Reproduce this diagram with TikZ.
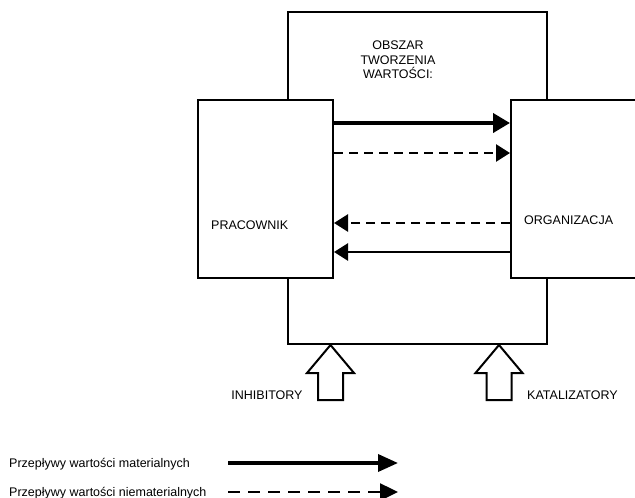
\documentclass[tikz,border=0pt]{standalone}
\usepackage{fontspec}
\setmainfont{Liberation Sans}
\usetikzlibrary{arrows.meta}

\begin{document}
\begin{tikzpicture}[x=1pt, y=-1pt,
    box/.style={draw, line width=2pt, fill=white, inner sep=0pt, anchor=north west},
    lbl/.style={font=\fontsize{12.5}{14.5}\selectfont, inner sep=0pt},
    flow/.style={line width=2.5pt, -{Triangle[length=14pt, width=17pt]}},
    soft/.style={flow, dash pattern=on 9pt off 6pt},
    gate/.style={draw, line width=2pt, fill=white}]
    \useasboundingbox (0,0) rectangle (635,498);
    \clip (0,0) rectangle (635,498);
    % value area and the two sides
    \node[box, minimum width=259pt, minimum height=332pt] (obszar) at (287,11) {};
    \node[box, minimum width=135pt, minimum height=178pt] (prac) at (197,99) {};
    \node[box, minimum width=140pt, minimum height=178pt] (org) at (510,99) {};
    \node[lbl, align=center] (obszarT) at (398,60) {OBSZAR\\TWORZENIA\\WARTOŚCI:};
    \node[lbl, anchor=west] (pracT) at (211,225) {PRACOWNIK};
    \node[lbl, anchor=west] (orgT) at (524,220) {ORGANIZACJA};
    % flows
    \draw[flow, line width=4pt, -{Triangle[length=17pt, width=19pt]}] (prac.east |- 0,123) -- (org.west |- 0,123);
    \draw[soft] (prac.east |- 0,153) -- (org.west |- 0,153);
    \draw[soft] (org.west |- 0,223) -- (prac.east |- 0,223);
    \draw[flow] (org.west |- 0,252) -- (prac.east |- 0,252);
    % inhibitors and catalysts
    \foreach \gx in {330.5,499}
        \draw[gate] (\gx,345) -- ++(23.5,28) -- ++(-11,0) -- ++(0,27) -- ++(-25,0)
            -- ++(0,-27) -- ++(-11,0) -- cycle;
    \node[lbl] (inhT) at (267,395) {INHIBITORY};
    \node[lbl, anchor=west] (katT) at (527,395) {KATALIZATORY};
    % legend
    \node[lbl, anchor=west] (matT) at (9,464) {Przepływy wartości materialnych};
    \node[lbl, anchor=west] (niematT) at (9,493) {Przepływy wartości niematerialnych};
    \coordinate (mat0) at (228,463);
    \coordinate (mat1) at (398,463);
    \coordinate (niemat0) at (228,492);
    \coordinate (niemat1) at (398,492);
    \draw[flow, line width=3.5pt, -{Triangle[length=20pt, width=17pt]}] (mat0) -- (mat1);
    \draw[flow, dash pattern=on 12pt off 8pt, -{Triangle[length=18pt, width=17pt]}] (niemat0) -- (niemat1);
\end{tikzpicture}
\end{document}
